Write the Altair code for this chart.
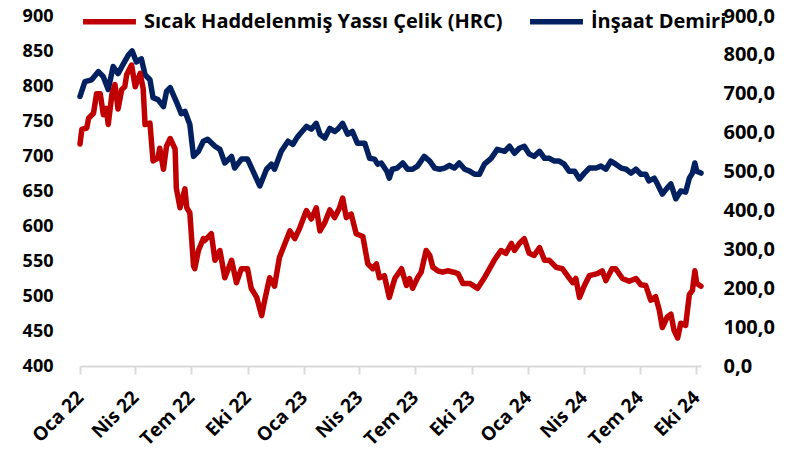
import altair as alt
import pandas as pd

# Days since 2022-01-01 and values
red_days = [0, 3, 11, 14, 22, 27, 33, 38, 43, 46, 52, 57, 62, 68, 73, 76, 84, 90, 98, 103,
            106, 114, 119, 127, 130, 136, 141, 147, 155, 157, 163, 171, 174, 179, 185, 187,
            193, 201, 203, 214, 220, 228, 236, 247, 255, 263, 273, 279, 288, 296, 301, 309,
            317, 325, 334, 342, 350, 358, 369, 377, 385, 391, 399, 407, 415, 423, 428, 434,
            442, 450, 461, 469, 477, 483, 488, 496, 504, 513, 524, 532, 537, 542, 550, 556,
            564, 570, 575, 583, 591, 599, 609, 616, 624, 635, 648, 659, 675, 686, 694, 703,
            708, 716, 724, 732, 740, 749, 757, 765, 776, 786, 797, 803, 808, 814, 822, 830,
            843, 851, 857, 867, 873, 884, 895, 906, 914, 922, 930, 938, 944, 949, 957, 963,
            968, 974, 979, 987, 993, 998, 1002, 1005, 1012]
red_vals = [717, 738, 740, 754, 761, 789, 789, 759, 768, 745, 788, 802, 767, 795, 799, 816, 830,
            799, 818, 796, 745, 747, 693, 697, 711, 681, 714, 725, 710, 654, 626, 653, 626, 619,
            543, 539, 565, 582, 579, 589, 551, 565, 526, 551, 519, 539, 539, 511, 498, 472, 494,
            526, 514, 555, 575, 593, 582, 597, 622, 610, 626, 593, 605, 623, 612, 626, 640, 612,
            617, 589, 585, 546, 539, 546, 526, 529, 498, 525, 539, 515, 525, 511, 526, 534, 565,
            558, 541, 536, 534, 536, 534, 532, 518, 518, 511, 526, 551, 565, 561, 575, 565, 575,
            582, 561, 558, 569, 551, 551, 541, 539, 526, 519, 525, 498, 515, 529, 532, 536, 522,
            539, 539, 525, 521, 525, 516, 515, 494, 499, 480, 455, 470, 474, 451, 440, 461, 458,
            502, 508, 536, 518, 514]

blue_days = [0, 8, 19, 30, 38, 46, 54, 62, 70, 79, 85, 92, 100, 106, 114, 119, 127, 136, 141,
             147, 157, 165, 171, 179, 185, 193, 201, 208, 220, 228, 236, 247, 252, 263, 273, 282,
             293, 304, 312, 317, 328, 339, 347, 353, 358, 369, 377, 385, 391, 399, 407, 415, 420,
             428, 436, 444, 452, 464, 472, 480, 485, 491, 500, 504, 509, 517, 526, 534, 542, 550,
             561, 570, 578, 586, 594, 602, 610, 618, 627, 635, 643, 651, 659, 670, 680, 692, 700,
             708, 716, 724, 732, 740, 749, 757, 765, 773, 781, 789, 797, 806, 814, 822, 830, 841,
             849, 857, 865, 873, 882, 890, 898, 906, 914, 922, 927, 936, 941, 949, 957, 963, 971,
             979, 987, 993, 998, 1002, 1005, 1012]
blue_vals = [693, 731, 736, 757, 744, 711, 770, 752, 775, 800, 810, 782, 790, 749, 736, 690, 685,
             667, 706, 716, 680, 649, 655, 621, 539, 552, 578, 583, 565, 557, 522, 539, 509, 532,
             532, 501, 463, 506, 519, 506, 552, 578, 570, 586, 596, 616, 609, 624, 596, 586, 611,
             603, 609, 624, 596, 603, 573, 573, 534, 532, 519, 522, 501, 483, 506, 509, 522, 506,
             506, 514, 539, 527, 509, 506, 509, 516, 509, 522, 506, 501, 493, 493, 519, 534, 557,
             552, 565, 547, 560, 565, 545, 539, 552, 534, 534, 527, 527, 519, 501, 501, 481, 496,
             509, 509, 514, 506, 527, 519, 509, 506, 496, 506, 493, 493, 476, 483, 468, 442, 458,
             468, 430, 450, 447, 483, 496, 522, 501, 496]

HRC = "Sıcak Haddelenmiş Yassı Çelik (HRC)"
REBAR = "İnşaat Demiri"
left_ticks = list(range(400, 901, 50))
right_ticks = list(range(0, 901, 100))
tick_months = [(2022, 1), (2022, 4), (2022, 7), (2022, 10), (2023, 1), (2023, 4),
               (2023, 7), (2023, 10), (2024, 1), (2024, 4), (2024, 7), (2024, 10)]

base = pd.Timestamp("2022-01-01")
red_df = pd.DataFrame({"date": base + pd.to_timedelta(red_days, unit="D"),
                       "value": red_vals, "series": HRC})
blue_df = pd.DataFrame({"date": base + pd.to_timedelta(blue_days, unit="D"),
                        "value": blue_vals, "series": REBAR})

FONT = "Open Sans"
month_expr = ("['Oca','Şub','Mar','Nis','May','Haz','Tem','Ağu','Eyl','Eki','Kas','Ara']"
              "[month(datum.value)] + ' ' + timeFormat(datum.value, '%y')")

x_enc = alt.X(
    "date:T",
    title=None,
    scale=alt.Scale(domain=[alt.DateTime(year=2022, month=1, date=1),
                            alt.DateTime(year=2024, month=10, date=9)]),
    axis=alt.Axis(values=[alt.DateTime(year=y, month=m, date=1) for y, m in tick_months],
                  labelExpr=month_expr, labelAngle=-45, labelAlign="right",
                  labelBaseline="middle", labelPadding=20,
                  labelFont=FONT, labelFontSize=19, labelFontWeight="bold",
                  labelColor="black", domainColor="#d9d9d9", domainWidth=2,
                  tickColor="#d9d9d9", tickWidth=2, tickSize=8, grid=False,
                  labelOverlap=False),
)

color_enc = alt.Color(
    "series:N",
    scale=alt.Scale(domain=[HRC, REBAR], range=["#C00000", "#002060"]),
    legend=alt.Legend(title=None, orient="none", legendX=0, legendY=-24,
                      direction="horizontal", symbolType="stroke",
                      symbolStrokeWidth=5.5, symbolSize=2800, columnPadding=16,
                      labelFont=FONT, labelFontSize=20, labelFontWeight="bold",
                      labelColor="black", labelLimit=0, labelOffset=5),
)

blue = alt.Chart(blue_df).mark_line(strokeWidth=5.5, strokeCap="round", strokeJoin="round").encode(
    x=x_enc,
    y=alt.Y("value:Q", title=None,
            scale=alt.Scale(domain=[0, 900], nice=False),
            axis=alt.Axis(orient="right", values=right_ticks,
                          labelExpr="replace(format(datum.value, '.1f'), '.', ',')",
                          labelFont=FONT, labelFontSize=20, labelFontWeight="bold",
                          labelColor="black", domain=False, ticks=False, grid=False,
                          labelPadding=22)),
    color=color_enc,
)

red = alt.Chart(red_df).mark_line(strokeWidth=5.5, strokeCap="round", strokeJoin="round").encode(
    x=x_enc,
    y=alt.Y("value:Q", title=None,
            scale=alt.Scale(domain=[400, 900], nice=False),
            axis=alt.Axis(orient="left", values=left_ticks,
                          labelFont=FONT, labelFontSize=18, labelFontWeight="bold",
                          labelColor="black", domain=False, ticks=False, grid=False,
                          labelPadding=27)),
    color=color_enc,
)

chart = alt.layer(blue, red).resolve_scale(y="independent").properties(
    width=621, height=350,
    autosize=alt.AutoSizeParams(type="none"),
    padding={"left": 72, "top": 8, "right": 87, "bottom": 89},
).configure_view(stroke=None)

chart.save("out.html", embed_options={"renderer": "svg", "actions": False})
